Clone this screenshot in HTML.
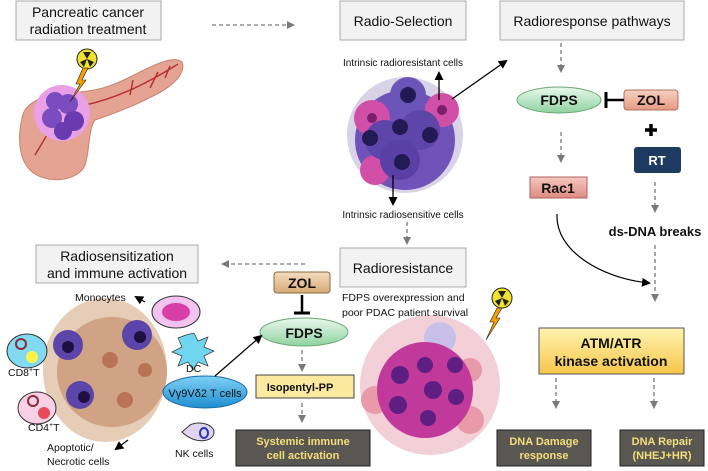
<!DOCTYPE html>
<html><head><meta charset="utf-8"><style>
html,body{margin:0;padding:0;background:#fff}
svg{display:block}
text{font-family:"Liberation Sans",sans-serif}
</style></head><body>
<svg width="708" height="471" viewBox="0 0 708 471" xmlns="http://www.w3.org/2000/svg">
<defs>
<marker id="ag" markerWidth="8" markerHeight="8" refX="6" refY="4" orient="auto" markerUnits="userSpaceOnUse"><path d="M0,0 L8,4 L0,8z" fill="#7a7a7a"/></marker>
<marker id="ab" markerWidth="9" markerHeight="9" refX="7" refY="4.5" orient="auto" markerUnits="userSpaceOnUse"><path d="M0,0 L9,4.5 L0,9z" fill="#000"/></marker>
<linearGradient id="gr" x1="0" y1="0" x2="0" y2="1"><stop offset="0" stop-color="#e8f8ec"/><stop offset="1" stop-color="#8fd3a0"/></linearGradient>
<linearGradient id="ye" x1="0" y1="0" x2="0" y2="1"><stop offset="0" stop-color="#fff3b0"/><stop offset="1" stop-color="#f6c64a"/></linearGradient>
<linearGradient id="bl" x1="0" y1="0" x2="0" y2="1"><stop offset="0" stop-color="#7fd0f5"/><stop offset="1" stop-color="#1e8fd0"/></linearGradient>
<linearGradient id="tan" x1="0" y1="0" x2="0" y2="1"><stop offset="0" stop-color="#f4dcc0"/><stop offset="1" stop-color="#d8aa78"/></linearGradient>
<linearGradient id="sal" x1="0" y1="0" x2="0" y2="1"><stop offset="0" stop-color="#f8d0c0"/><stop offset="1" stop-color="#e59a82"/></linearGradient>
<linearGradient id="rac" x1="0" y1="0" x2="0" y2="1"><stop offset="0" stop-color="#f5c8c0"/><stop offset="1" stop-color="#e08a80"/></linearGradient>
</defs>

<!-- header boxes -->
<g fill="#f2f2f2" stroke="#a8a8a8" stroke-width="1">
<rect x="16" y="1" width="145" height="39"/>
<rect x="340" y="1" width="126" height="39"/>
<rect x="500" y="1" width="184" height="39"/>
<rect x="340" y="248" width="126" height="39"/>
<rect x="36" y="245" width="162" height="38"/>
</g>
<g font-size="14" fill="#111" text-anchor="middle">
<text x="88" y="17">Pancreatic cancer</text><text x="88" y="34">radiation treatment</text>
<text x="403" y="26">Radio-Selection</text>
<text x="592" y="26">Radioresponse  pathways</text>
<text x="403" y="273">Radioresistance</text>
<text x="117" y="261">Radiosensitization</text><text x="117" y="278">and immune  activation</text>
</g>

<!-- dashed arrows -->
<g stroke="#7a7a7a" stroke-width="1.3" stroke-dasharray="4,3" fill="none" marker-end="url(#ag)">
<line x1="212" y1="25" x2="293" y2="25"/>
<line x1="561" y1="43" x2="561" y2="71"/>
<line x1="561" y1="132" x2="561" y2="161"/>
<line x1="655" y1="182" x2="655" y2="211"/>
<line x1="655" y1="245" x2="655" y2="300"/>
<line x1="407" y1="222" x2="407" y2="243"/>
<line x1="305" y1="264" x2="223" y2="264"/>
<line x1="302" y1="350" x2="302" y2="370"/>
<line x1="302" y1="403" x2="302" y2="421"/>
<line x1="556" y1="378" x2="556" y2="407"/>
<line x1="654" y1="378" x2="654" y2="407"/>
</g>

<!-- pancreas -->
<g>
<path d="M22,118 C25,100 50,92 80,92 C105,90 120,82 140,72 C160,62 175,56 182,62 C186,72 175,85 155,95 C130,108 110,115 95,120 C88,130 90,150 85,165 C78,182 45,185 30,170 C18,158 18,135 22,118Z" fill="#e5a493" stroke="#c98070" stroke-width="1"/>
<path d="M85,105 C110,100 140,88 178,64 M150,88 L158,72 M130,95 L133,80 M165,78 L170,66 M35,155 L50,130" stroke="#b83030" stroke-width="1.5" fill="none"/>
<circle cx="62" cy="113" r="28" fill="#e9a0e6"/>
<circle cx="52" cy="118" r="10" fill="#7b4cc0"/><circle cx="68" cy="104" r="10" fill="#7b4cc0"/><circle cx="74" cy="121" r="10" fill="#6a3ab0"/><circle cx="55" cy="101" r="9" fill="#7b4cc0"/><circle cx="63" cy="131" r="9" fill="#6a3ab0"/>
<circle cx="87" cy="59" r="10" fill="#f2e230" stroke="#222" stroke-width="1"/>
<path d="M87,59 L83,52 L91,52Z M87,59 L80,62 L84,67Z M87,59 L94,62 L90,67Z" fill="#222"/>
<path d="M83,68 L76,84 L80,84 L70,102 L86,80 L82,80 L88,68Z" fill="#f5a000" stroke="#222" stroke-width="0.6"/>
</g>

<!-- radio-selection tumor -->
<g>
<circle cx="405" cy="135" r="58" fill="#d8d3e6"/>
<circle cx="405" cy="140" r="50" fill="#6f53b8"/>
<circle cx="372" cy="118" r="18" fill="#d24fa8"/><circle cx="442" cy="110" r="17" fill="#d24fa8"/><circle cx="375" cy="170" r="15" fill="#d24fa8"/>
<circle cx="408" cy="95" r="18" fill="#6c55b8"/><circle cx="385" cy="140" r="20" fill="#5e45aa"/><circle cx="420" cy="130" r="20" fill="#5e45aa"/><circle cx="400" cy="160" r="20" fill="#5a40a5"/>
<circle cx="408" cy="95" r="8" fill="#221a55"/><circle cx="370" cy="138" r="8" fill="#221a55"/><circle cx="400" cy="127" r="8" fill="#221a55"/><circle cx="430" cy="135" r="8" fill="#221a55"/><circle cx="402" cy="162" r="8" fill="#221a55"/><circle cx="442" cy="110" r="5" fill="#7a1f6a"/><circle cx="372" cy="118" r="5" fill="#7a1f6a"/>
</g>
<g font-size="10" fill="#111" text-anchor="middle"><text x="403" y="66">Intrinsic radioresistant cells</text><text x="403" y="218">Intrinsic radiosensitive cells</text></g>
<g stroke="#000" stroke-width="1.3" marker-end="url(#ab)">
<line x1="439" y1="100" x2="439" y2="73"/>
<line x1="393" y1="175" x2="393" y2="204"/>
<line x1="452" y1="99" x2="506" y2="61"/>
</g>

<!-- right pathway -->
<ellipse cx="559" cy="100" rx="42" ry="13" fill="url(#gr)" stroke="#6aa878"/>
<text x="559" y="105" font-size="14" font-weight="bold" text-anchor="middle" fill="#111">FDPS</text>
<rect x="624" y="90" width="54" height="20" rx="3" fill="url(#sal)" stroke="#b07060"/>
<text x="651" y="105" font-size="14" font-weight="bold" text-anchor="middle" fill="#111">ZOL</text>
<line x1="606" y1="100" x2="624" y2="100" stroke="#000" stroke-width="2.5"/><line x1="606" y1="92" x2="606" y2="108" stroke="#000" stroke-width="3"/>
<path d="M651,124 v12 M645,130 h12" stroke="#000" stroke-width="3.5"/>
<rect x="634" y="147" width="47" height="26" rx="3" fill="#1f3a60"/>
<text x="657" y="165" font-size="13" font-weight="bold" text-anchor="middle" fill="#fff">RT</text>
<rect x="530" y="177" width="57" height="21" fill="url(#rac)" stroke="#b06060"/>
<text x="558" y="193" font-size="14" font-weight="bold" text-anchor="middle" fill="#111">Rac1</text>
<text x="655" y="236" font-size="13" font-weight="bold" text-anchor="middle" fill="#111">ds-DNA  breaks</text>
<path d="M557,214 C555,250 600,278 649,283" stroke="#000" stroke-width="1.2" fill="none" marker-end="url(#ab)"/>
<rect x="539" y="328" width="145" height="46" fill="url(#ye)" stroke="#555" stroke-width="1"/>
<text x="611" y="348" font-size="14" font-weight="bold" text-anchor="middle" fill="#111">ATM/ATR</text>
<text x="611" y="366" font-size="14" font-weight="bold" text-anchor="middle" fill="#111">kinase activation</text>

<!-- dark boxes -->
<g fill="#5a5752" stroke="#222"><rect x="497" y="430" width="94" height="36"/><rect x="620" y="430" width="84" height="36"/><rect x="236" y="430" width="134" height="36"/></g>
<g font-size="11" font-weight="bold" fill="#f3df7a" text-anchor="middle">
<text x="544" y="445">DNA  Damage</text><text x="544" y="459">response</text>
<text x="662" y="445">DNA  Repair</text><text x="662" y="459">(NHEJ+HR)</text>
<text x="303" y="445">Systemic immune</text><text x="303" y="459">cell activation</text>
</g>

<!-- radioresistance tumor -->
<g>
<circle cx="430" cy="385" r="70" fill="#f3cfd8"/>
<circle cx="440" cy="338" r="16" fill="#c8bfe8"/>
<circle cx="375" cy="400" r="14" fill="#e89aa8"/><circle cx="470" cy="420" r="14" fill="#e89aa8"/><circle cx="470" cy="370" r="12" fill="#e89aa8"/>
<circle cx="425" cy="390" r="48" fill="#c0399b"/>
<circle cx="400" cy="375" r="9" fill="#5e1e82"/><circle cx="425" cy="365" r="8" fill="#5e1e82"/><circle cx="455" cy="365" r="8" fill="#5e1e82"/><circle cx="433" cy="390" r="9" fill="#5e1e82"/><circle cx="456" cy="397" r="8" fill="#5e1e82"/><circle cx="398" cy="405" r="9" fill="#5e1e82"/><circle cx="428" cy="418" r="8" fill="#5e1e82"/>
<circle cx="502" cy="298" r="10" fill="#f2e230" stroke="#222"/>
<path d="M502,298 L498,291 L506,291Z M502,298 L495,301 L499,306Z M502,298 L509,301 L505,306Z" fill="#222"/>
<path d="M497,308 L490,322 L494,322 L486,340 L500,318 L496,318 L502,308Z" fill="#f5a000" stroke="#222" stroke-width="0.6"/>
</g>
<g font-size="10.5" fill="#111"><text x="342" y="301">FDPS  overexpression and</text><text x="342" y="316">poor PDAC  patient survival</text></g>

<!-- left pathway -->
<rect x="274" y="272" width="56" height="21" rx="3" fill="url(#tan)" stroke="#8a6a40"/>
<text x="302" y="288" font-size="14" font-weight="bold" text-anchor="middle" fill="#111">ZOL</text>
<line x1="302" y1="295" x2="302" y2="313" stroke="#000" stroke-width="2.5"/><line x1="294" y1="313" x2="310" y2="313" stroke="#000" stroke-width="3"/>
<ellipse cx="304" cy="332" rx="44" ry="14" fill="url(#gr)" stroke="#6aa878"/>
<text x="304" y="338" font-size="14" font-weight="bold" text-anchor="middle" fill="#111">FDPS</text>
<rect x="256" y="375" width="98" height="23" fill="#fbe9a0" stroke="#444"/>
<text x="300" y="391" font-size="11" font-weight="bold" text-anchor="middle" fill="#111">Isopentyl-PP</text>

<!-- immune cluster -->
<g>
<ellipse cx="105" cy="370" rx="62" ry="72" fill="#e6cdb8"/>
<ellipse cx="112" cy="372" rx="55" ry="55" fill="#cfa383"/>
<circle cx="68" cy="345" r="15" fill="#5b45a8"/><circle cx="68" cy="347" r="6" fill="#1e1040"/>
<circle cx="137" cy="335" r="15" fill="#5b45a8"/><circle cx="140" cy="337" r="6" fill="#1e1040"/>
<circle cx="80" cy="395" r="14" fill="#5b45a8"/><circle cx="84" cy="397" r="6" fill="#1e1040"/>
<circle cx="110" cy="360" r="8" fill="#b87355"/><circle cx="125" cy="400" r="8" fill="#b87355"/><circle cx="145" cy="370" r="7" fill="#b87355"/>
</g>
<ellipse cx="176" cy="312" rx="24" ry="16" fill="#f2c3ef" stroke="#333"/><ellipse cx="176" cy="312" rx="14" ry="9" fill="#d83fa8"/>
<path d="M186,335 l8,-2 l4,8 l10,-4 l-4,10 l10,4 l-10,5 l4,10 l-10,-4 l-5,8 l-5,-8 l-10,4 l4,-10 l-10,-4 l10,-5 l-4,-9z" fill="#70d6ef" stroke="#333" stroke-width="0.7"/>
<ellipse cx="27" cy="351" rx="20" ry="17" fill="#7fdaf2" stroke="#333"/><circle cx="32" cy="357" r="6" fill="#fff24a"/><circle cx="21" cy="344" r="5" fill="none" stroke="#8a2a3a" stroke-width="2"/>
<ellipse cx="37" cy="408" rx="19" ry="16" fill="#f9d0e4" stroke="#333"/><circle cx="44" cy="413" r="6" fill="#e84a5a"/><circle cx="33" cy="401" r="5" fill="none" stroke="#8a2a3a" stroke-width="2"/>
<path d="M190,425 C200,420 215,425 214,433 C213,442 195,445 182,432Z" fill="#e0d4f0" stroke="#333"/><ellipse cx="204" cy="433" rx="4" ry="5" fill="none" stroke="#2a3ab0" stroke-width="2"/>
<ellipse cx="205" cy="392" rx="42" ry="16" fill="url(#bl)" stroke="#1a6aa0"/>
<text x="205" y="397" font-size="11" text-anchor="middle" fill="#111">Vγ9Vδ2 T cells</text>
<g stroke="#000" stroke-width="1.2" marker-end="url(#ab)">
<line x1="215" y1="376" x2="261" y2="336"/>
<line x1="145" y1="302" x2="136" y2="297"/>
<line x1="128" y1="440" x2="116" y2="449"/>
</g>
<g font-size="10.5" fill="#111">
<text x="75" y="301">Monocytes</text>
<text x="186" y="372">DC</text>
<text x="8" y="376">CD8<tspan font-size="7" dy="-4">+</tspan><tspan dy="4">T</tspan></text>
<text x="28" y="431">CD4<tspan font-size="7" dy="-4">+</tspan><tspan dy="4">T</tspan></text>
<text x="175" y="457">NK  cells</text>
<text x="47" y="451">Apoptotic/</text><text x="47" y="465">Necrotic cells</text>
</g>
</svg>
</body></html>
